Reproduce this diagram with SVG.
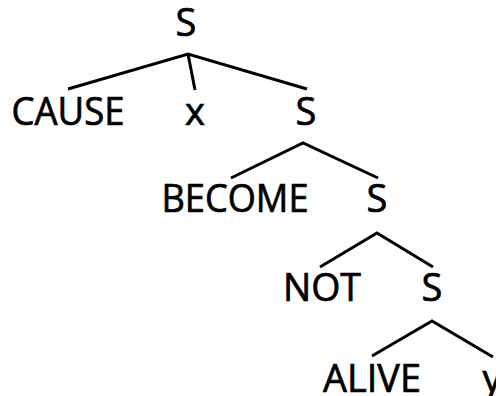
<svg xmlns="http://www.w3.org/2000/svg" width="496" height="396" viewBox="0 0 496 396">
<style>
text{font-family:"Open Sans","DejaVu Sans",sans-serif;font-size:38px;fill:#000;stroke:#000;stroke-width:0.7;text-anchor:middle}
.e{stroke:#000;stroke-width:3;fill:none;stroke-linecap:butt;stroke-linejoin:miter}
</style>
<rect width="496" height="396" fill="#fff"/>
<g id="connectors">
<polyline class="e" points="68,89 188,54 307,89"/>
<line class="e" x1="188" y1="54" x2="195" y2="90"/>
<polyline class="e" points="231,178 303,143 378,178"/>
<polyline class="e" points="320,267 377,233 433,267"/>
<polyline class="e" points="372,356 432,321 493,357"/>
</g>
<g id="s1"><text x="186" y="36">S</text></g>
<g id="cause"><text x="68" y="125" textLength="113" lengthAdjust="spacingAndGlyphs">CAUSE</text></g>
<g id="x"><text x="195" y="125">x</text></g>
<g id="s2"><text x="306" y="125">S</text></g>
<g id="become"><text x="235" y="212" textLength="147" lengthAdjust="spacingAndGlyphs">BECOME</text></g>
<g id="s3"><text x="377" y="212">S</text></g>
<g id="not"><text x="322" y="301" textLength="78" lengthAdjust="spacingAndGlyphs">NOT</text></g>
<g id="s4"><text x="432" y="301">S</text></g>
<g id="alive"><text x="372" y="392" textLength="98" lengthAdjust="spacingAndGlyphs">ALIVE</text></g>
<g id="y"><text x="492" y="392">y</text></g>
</svg>
